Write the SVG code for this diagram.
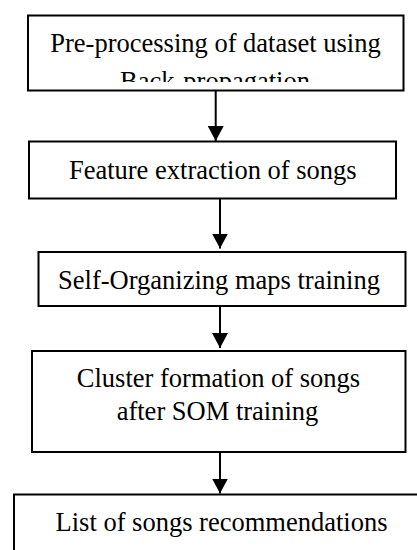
<svg xmlns="http://www.w3.org/2000/svg" width="417" height="550" viewBox="0 0 417 550">
<style>
.box{fill:#fff;stroke:#000;stroke-width:2}
.lbl{font-family:'Liberation Serif',serif;font-size:26.5px;fill:#000;text-anchor:middle}
.conn{stroke:#000;stroke-width:2;fill:none}
</style>
<defs>
<clipPath id="clip1"><rect x="28" y="15" width="376" height="67"/></clipPath>
<marker id="arr" markerUnits="userSpaceOnUse" markerWidth="16" markerHeight="16" viewBox="0 0 16 16" refX="15" refY="8" orient="auto">
<path d="M0,0 L15,8 L0,16 Z" fill="#000"/>
</marker>
</defs>
<rect width="417" height="550" fill="#fff"/>
<g id="connectors">
<line class="conn" x1="215.7" y1="91" x2="215.7" y2="141" marker-end="url(#arr)"/>
<line class="conn" x1="220" y1="199" x2="220" y2="248.5" marker-end="url(#arr)"/>
<line class="conn" x1="220" y1="306.5" x2="220" y2="348" marker-end="url(#arr)"/>
<line class="conn" x1="220" y1="452" x2="220" y2="493.5" marker-end="url(#arr)"/>
</g>
<g id="node1">
<rect class="box" x="28" y="15.5" width="375.5" height="75"/>
<g clip-path="url(#clip1)">
<text class="lbl" x="215.5" y="51.5" font-family="Liberation Serif">Pre-processing of dataset using</text>
<text class="lbl" x="215" y="90" font-family="Liberation Serif">Back-propagation</text>
</g>
</g>
<g id="node2">
<rect class="box" x="29" y="141.5" width="367" height="57"/>
<text class="lbl" x="212.8" y="178.5">Feature extraction of songs</text>
</g>
<g id="node3">
<rect class="box" x="38.5" y="252" width="367" height="54"/>
<text class="lbl" x="219" y="289">Self-Organizing maps training</text>
</g>
<g id="node4">
<rect class="box" x="32" y="351" width="373.5" height="101"/>
<text class="lbl" x="218.5" y="387">Cluster formation of songs</text>
<text class="lbl" x="217.5" y="420">after SOM training</text>
</g>
<g id="node5">
<rect class="box" x="14" y="494.5" width="420" height="80"/>
<text class="lbl" x="221.5" y="531">List of songs recommendations</text>
</g>
</svg>
